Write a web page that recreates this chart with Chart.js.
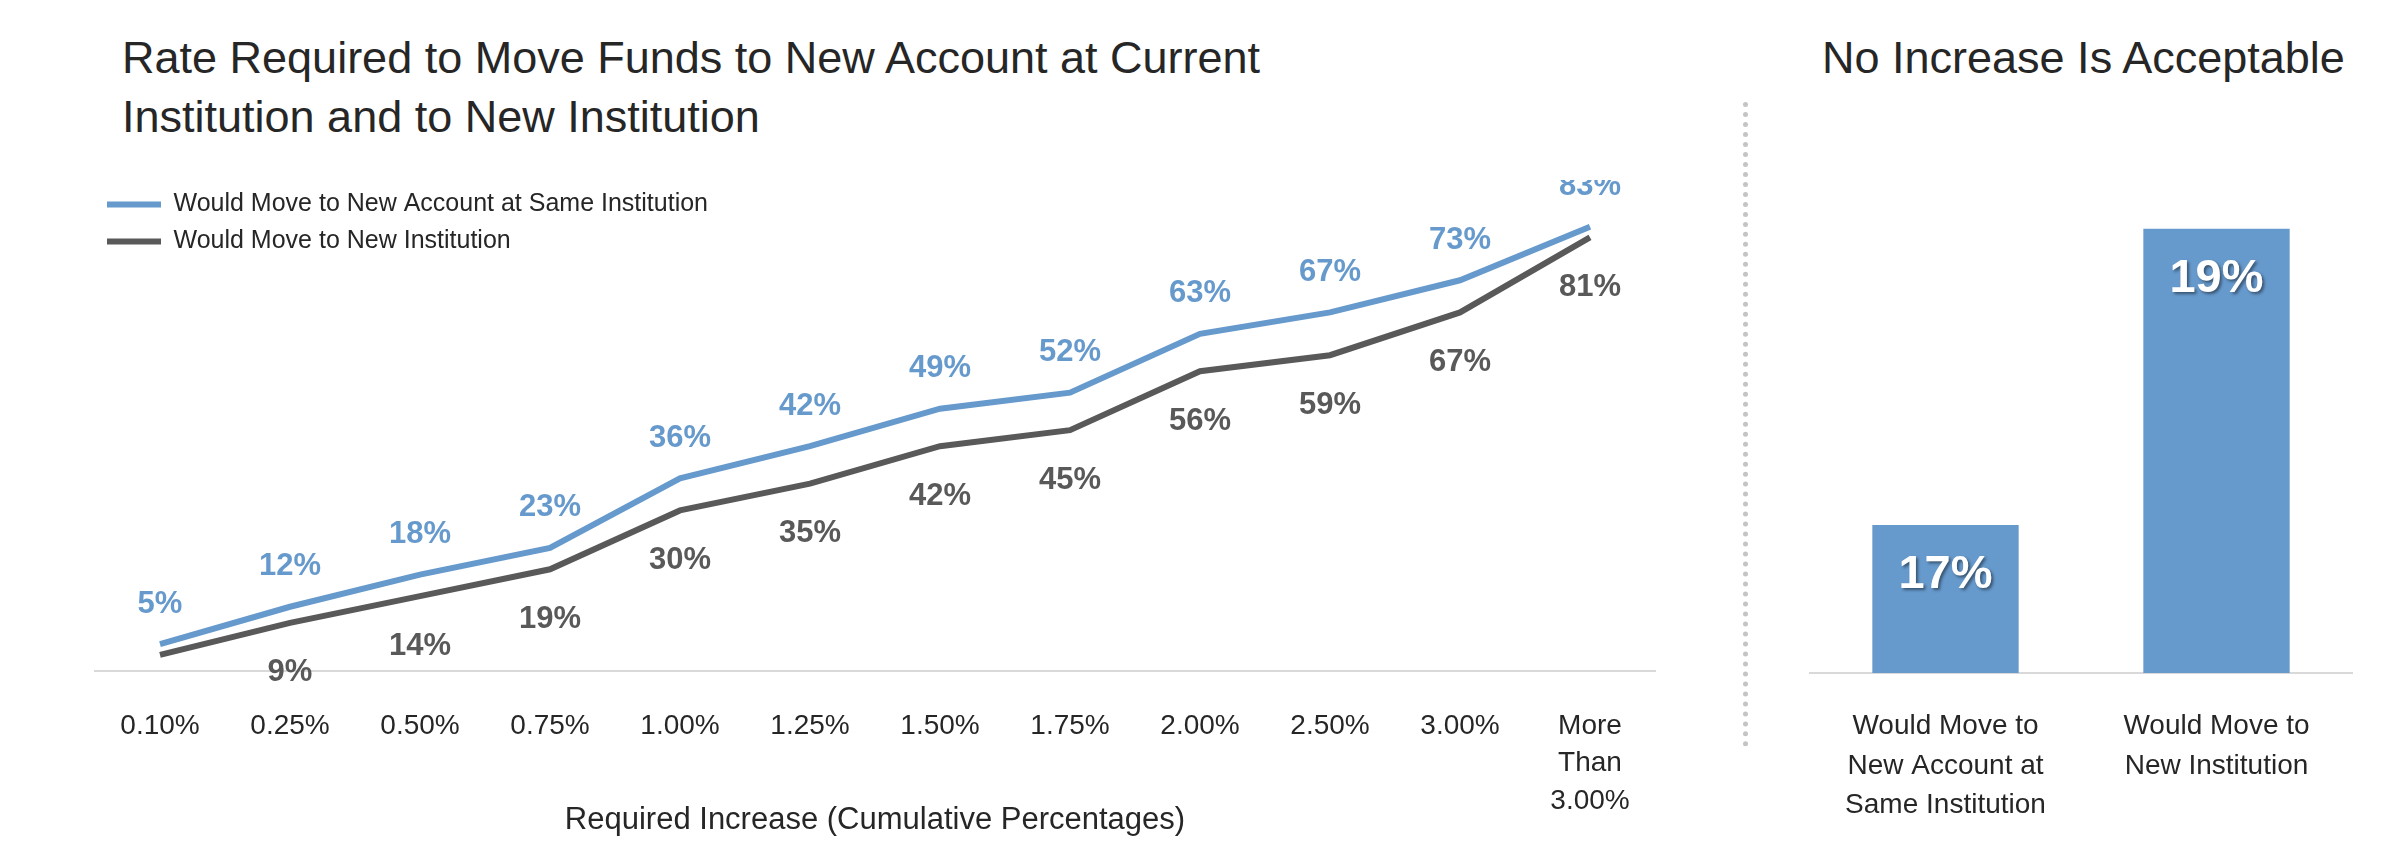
<!DOCTYPE html>
<html>
<head>
<meta charset="utf-8">
<script src="https://cdn.jsdelivr.net/npm/chart.js@4.4.1/dist/chart.umd.min.js"></script>
<style>
  body { margin:0; background:#fff; width:2400px; height:849px; position:relative; overflow:hidden;
         font-family:'Liberation Sans Narrow','Arial Narrow',sans-serif; color:#262626; }
  .title { position:absolute; font-size:45px; line-height:59px; color:#262626; }
  #sep { position:absolute; left:1743px; top:102px; height:645px; border-left:5px dotted #c4c4c4; }
  .box { position:absolute; }
</style>
</head>
<body>
<div class="title" style="left:122px; top:28px;">Rate Required to Move Funds to New Account at Current<br>Institution and to New Institution</div>
<div class="title" style="left:1822px; top:28px;">No Increase Is Acceptable</div>
<div id="sep"></div>
<div class="box" style="left:0; top:180px; width:1700px; height:669px;"><canvas id="lineChart"></canvas></div>
<div class="box" style="left:1760px; top:140px; width:640px; height:709px;"><canvas id="barChart"></canvas></div>
<script>
// data
var categories = ['0.10%','0.25%','0.50%','0.75%','1.00%','1.25%','1.50%','1.75%','2.00%','2.50%','3.00%',['More','Than','3.00%']];
var sameInstitution = [5,12,18,23,36,42,49,52,63,67,73,83];
var newInstitution  = [3,9,14,19,30,35,42,45,56,59,67,81];
var newInstLabels   = [null,9,14,19,30,35,42,45,56,59,67,81];
var barCategories = [['Would Move to','New Account at','Same Institution'],['Would Move to','New Institution']];
var barValues = [17,19];

var FONT = "'Liberation Sans Narrow','Arial Narrow',sans-serif";
var BLUE = '#6699cc', GRAY = '#595959';

// draw value labels on the lines
const lineLabels = {
  id:'lineLabels',
  afterDatasetsDraw(chart){
    const ctx = chart.ctx;
    ctx.save();
    ctx.font = 'bold 31px ' + FONT;
    ctx.textAlign = 'center'; ctx.textBaseline = 'middle';
    chart.getDatasetMeta(0).data.forEach((p,i)=>{
      ctx.fillStyle = BLUE;
      ctx.fillText(sameInstitution[i]+'%', p.x, p.y-40);
    });
    chart.getDatasetMeta(1).data.forEach((p,i)=>{
      if (newInstLabels[i]==null) return;
      ctx.fillStyle = GRAY;
      ctx.fillText(newInstLabels[i]+'%', p.x, p.y+50);
    });
    ctx.restore();
  }
};

new Chart(document.querySelector('#lineChart'), {
  type:'line',
  data:{ labels:categories, datasets:[
    {label:'Would Move to New Account at Same Institution', data:sameInstitution, borderColor:BLUE, backgroundColor:BLUE, borderWidth:6, pointRadius:0, tension:0},
    {label:'Would Move to New Institution', data:newInstitution, borderColor:GRAY, backgroundColor:GRAY, borderWidth:6, pointRadius:0, tension:0}
  ]},
  options:{
    responsive:true, maintainAspectRatio:false, animation:false,
    layout:{padding:{left:95, right:45, top:20, bottom:0}},
    plugins:{
      tooltip:{enabled:false},
      legend:{position:'chartArea', align:'start',
        labels:{usePointStyle:true, pointStyle:'line', pointStyleWidth:54, color:'#262626', padding:12, font:{family:FONT, size:25}}}
    },
    scales:{
      x:{ offset:true, grid:{display:false}, border:{display:true, color:'#d9d9d9', width:2},
          ticks:{color:'#262626', padding:28, maxRotation:0, autoSkip:false, font:{family:FONT, size:28, lineHeight:1.35}},
          title:{display:true, text:'Required Increase (Cumulative Percentages)', color:'#262626', font:{family:FONT, size:31}, padding:{top:0, bottom:10}},
          afterFit(s){ s.height = 178; } },
      y:{ display:false, min:0, max:88 }
    }
  },
  plugins:[lineLabels]
});

const barLabels = {
  id:'barLabels',
  afterDatasetsDraw(chart){
    const ctx = chart.ctx;
    ctx.save();
    ctx.font = 'bold 47px ' + FONT;
    ctx.textAlign = 'center'; ctx.textBaseline = 'middle';
    ctx.shadowColor = 'rgba(0,0,0,0.45)'; ctx.shadowOffsetX = 2; ctx.shadowOffsetY = 2; ctx.shadowBlur = 3;
    ctx.fillStyle = '#fff';
    chart.getDatasetMeta(0).data.forEach((b,i)=>{ ctx.fillText(barValues[i]+'%', b.x, b.y+50); });
    ctx.restore();
  }
};

new Chart(document.querySelector('#barChart'), {
  type:'bar',
  data:{ labels:barCategories, datasets:[{data:barValues, backgroundColor:BLUE, barPercentage:0.54, categoryPercentage:1}]},
  options:{
    responsive:true, maintainAspectRatio:false, animation:false,
    layout:{padding:{left:50, right:48, top:0, bottom:0}},
    plugins:{legend:{display:false}, tooltip:{enabled:false}},
    scales:{
      x:{ grid:{display:false}, border:{display:true, color:'#d9d9d9', width:2},
          ticks:{color:'#262626', padding:26, maxRotation:0, font:{family:FONT, size:28, lineHeight:1.4}},
          afterFit(s){ s.height = 176; } },
      y:{ display:false, min:16, max:19.6 }
    }
  },
  plugins:[barLabels]
});
</script>
</body>
</html>
